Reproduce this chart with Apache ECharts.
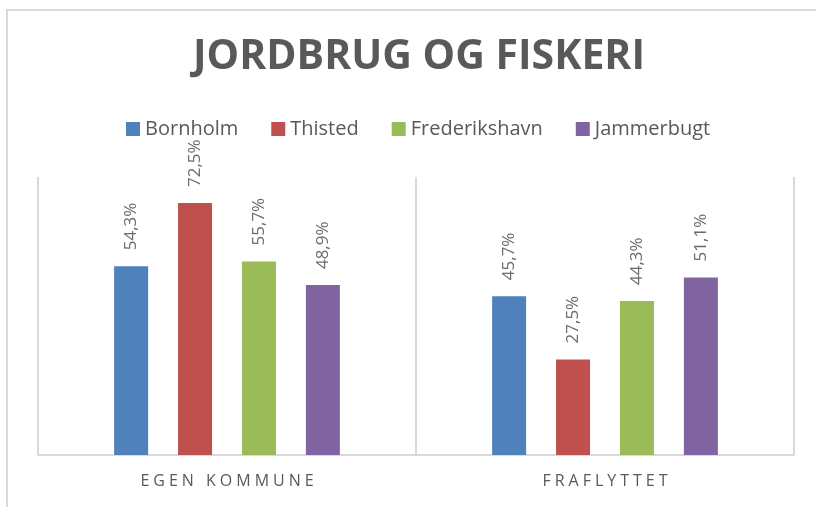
<!DOCTYPE html>
<html>
<head>
<meta charset="utf-8">
<script src="https://cdn.jsdelivr.net/npm/echarts@6/dist/echarts.min.js"></script>
<style>
  html, body { margin: 0; padding: 0; background: #fff; }
  #chart { width: 816px; height: 507px; }
</style>
</head>
<body>
<div id="chart"></div>
<script>
// kategorier og serier
var categories = ['EGEN KOMMUNE', 'FRAFLYTTET'];
var seriesNames = ['Bornholm', 'Thisted', 'Frederikshavn', 'Jammerbugt'];
var bornholm = [54.3, 45.7];
var thisted = [72.5, 27.5];
var frederikshavn = [55.7, 44.3];
var jammerbugt = [48.9, 51.1];
var colors = ['#4F81BD', '#C0504D', '#9BBB59', '#8064A2'];

var values = [bornholm, thisted, frederikshavn, jammerbugt];

function pct(p) {
    return p.value.toFixed(1).replace('.', ',') + '%';
}

// spærret skrift på kategoriakse (hvert tegn som eget rich-segment)
function spaced(value) {
    return value.split('').map(function (ch) {
        return '{c|' + ch + '}';
    }).join('');
}

var chart = echarts.init(document.getElementById('chart'));
var option = {
    animation: false,
    color: colors,
    title: {
        text: 'JORDBRUG OG FISKERI',
        left: 414,
        textAlign: 'center',
        top: 32,
        textStyle: {
            fontFamily: 'Open Sans',
            fontWeight: 'bold',
            fontSize: 41,
            color: '#595959'
        }
    },
    legend: {
        data: seriesNames,
        left: 121,
        top: 114,
        itemWidth: 14,
        itemHeight: 14,
        itemGap: 33,
        icon: 'rect',
        textStyle: {
            fontFamily: 'Open Sans',
            fontSize: 20,
            color: '#595959'
        }
    },
    graphic: [{
        type: 'rect',
        shape: { x: 7, y: 10, width: 830, height: 530 },
        style: { fill: 'none', stroke: '#d9d9d9', lineWidth: 2 },
        silent: true
    }],
    grid: {
        left: 38,
        right: 22,
        top: 177,
        bottom: 52
    },
    xAxis: {
        type: 'category',
        data: categories,
        axisLine: { lineStyle: { color: '#d9d9d9', width: 2 } },
        axisTick: { show: false, interval: 0 },
        splitLine: { show: true, interval: 0, lineStyle: { color: '#d9d9d9', width: 2 } },
        axisLabel: {
            interval: 0,
            margin: 18,
            fontFamily: 'Open Sans',
            fontSize: 16,
            color: '#595959',
            formatter: spaced,
            rich: {
                c: {
                    fontFamily: 'Open Sans',
                    fontSize: 16,
                    color: '#595959',
                    padding: [0, 2, 0, 2]
                }
            }
        }
    },
    yAxis: {
        type: 'value',
        min: 0,
        max: 80,
        show: false
    },
    series: seriesNames.map(function (name, i) {
        return {
            name: name,
            type: 'bar',
            data: values[i],
            barWidth: 34,
            barGap: '88%',
            label: {
                show: true,
                position: 'top',
                distance: 16,
                rotate: 90,
                align: 'left',
                verticalAlign: 'middle',
                fontFamily: 'Open Sans',
                fontSize: 17,
                color: '#6b6b6b',
                formatter: pct
            }
        };
    })
};
chart.setOption(option);
</script>
</body>
</html>
